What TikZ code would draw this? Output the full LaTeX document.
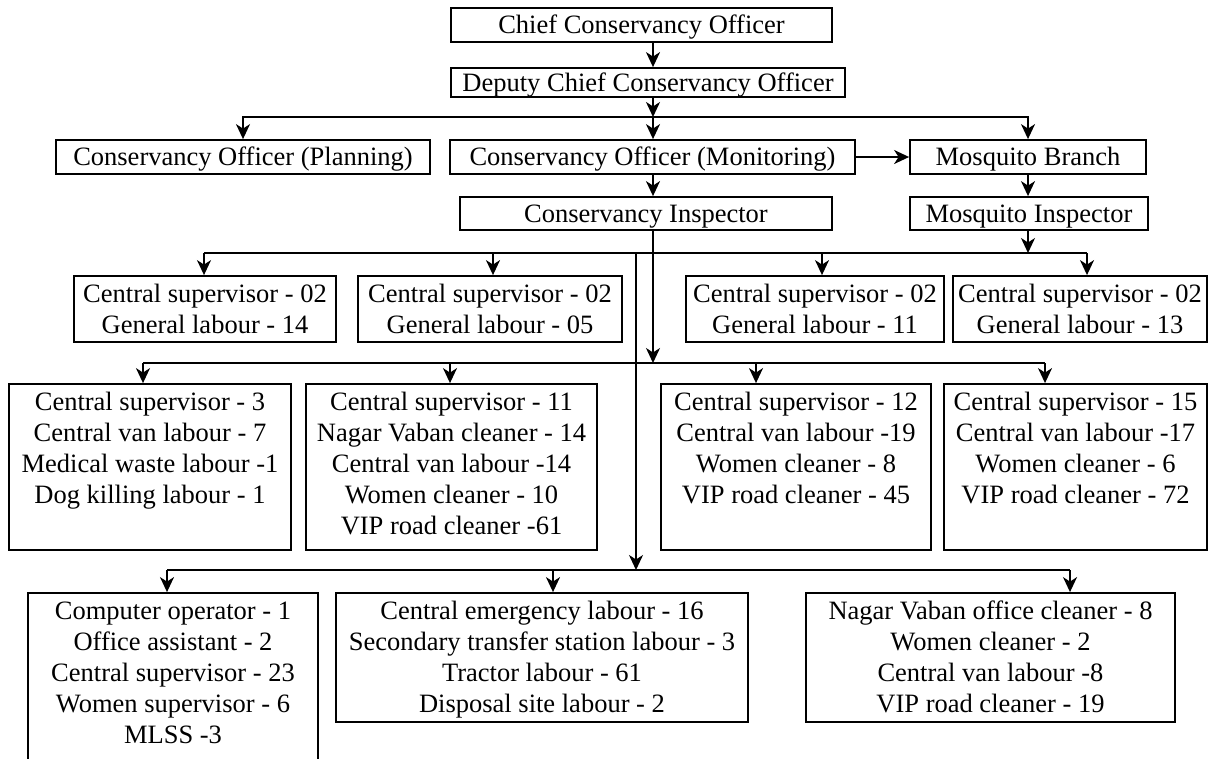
\documentclass[tikz,border=0pt]{standalone}
\usepackage{fontspec}
\setmainfont{Liberation Serif}
\usetikzlibrary{arrows.meta,calc}

\newcommand{\bt}[3]{\parbox[c][#2][t]{#1}{\centering\vspace*{4.3pt}\strut #3}}

\tikzset{
  box/.style={draw, line width=1.8pt, inner sep=0pt, font=\fontsize{26.5}{31}\selectfont},
  one/.style={box, text height=17.5pt, text depth=0pt},
  conn/.style={line width=1.8pt},
  arr/.style={conn, -{Stealth[length=15pt,width=14pt,inset=4.5pt]}},
}

\begin{document}
\begin{tikzpicture}[x=1pt,y=-1pt]
\useasboundingbox (0,0) rectangle (1209,758);

% top levels
\node[one, minimum width=381pt, minimum height=34pt] (chief) at (641.5,25) {Chief Conservancy Officer};
\node[one, minimum width=394pt, minimum height=29pt] (deputy) at (648,82.5) {Deputy Chief Conservancy Officer};
\node[one, minimum width=374pt, minimum height=34pt] (plan) at (243,157) {Conservancy Officer (Planning)};
\node[one, minimum width=405pt, minimum height=34pt] (mon) at (652.5,157) {Conservancy Officer (Monitoring)};
\node[one, minimum width=236pt, minimum height=34pt] (mb) at (1028,157) {Mosquito Branch};
\node[one, minimum width=372pt, minimum height=33pt] (ci) at (646,213.5) {Conservancy Inspector};
\node[one, minimum width=238pt, minimum height=33pt] (mi) at (1029,213.5) {Mosquito Inspector};

% row 1
\node[box] (r11) at (205,309) {\bt{262pt}{66pt}{Central supervisor - 02\\General labour - 14}};
\node[box] (r12) at (490,309) {\bt{264pt}{66pt}{Central supervisor - 02\\General labour - 05}};
\node[box] (r13) at (815,309) {\bt{258pt}{66pt}{Central supervisor - 02\\General labour - 11}};
\node[box] (r14) at (1080,309) {\bt{254pt}{66pt}{Central supervisor - 02\\General labour - 13}};

% row 2
\node[box] (r21) at (150,467) {\bt{282pt}{166pt}{Central supervisor - 3\\Central van labour - 7\\Medical waste labour -1\\Dog killing labour - 1}};
\node[box] (r22) at (451.5,467) {\bt{291pt}{166pt}{Central supervisor - 11\\Nagar Vaban cleaner - 14\\Central van labour -14\\Women cleaner - 10\\VIP road cleaner -61}};
\node[box] (r23) at (796,467) {\bt{270pt}{166pt}{Central supervisor - 12\\Central van labour -19\\Women cleaner - 8\\VIP road cleaner - 45}};
\node[box] (r24) at (1075.5,467) {\bt{263pt}{166pt}{Central supervisor - 15\\Central van labour -17\\Women cleaner - 6\\VIP road cleaner - 72}};

% row 3
\node[box] (r31) at (173,691.5) {\bt{290pt}{197pt}{Computer operator - 1\\Office assistant - 2\\Central supervisor - 23\\Women supervisor - 6\\MLSS -3}};
\node[box] (r32) at (542,657.5) {\bt{412pt}{129pt}{Central emergency labour - 16\\Secondary transfer station labour - 3\\Tractor labour - 61\\Disposal site labour - 2}};
\node[box] (r33) at (990.5,657.5) {\bt{369pt}{129pt}{Nagar Vaban office cleaner - 8\\Women cleaner - 2\\Central van labour -8\\VIP road cleaner - 19}};

% junction coordinates
\coordinate (j1) at (653,117);
\coordinate (b1) at (1028,253);
\coordinate (k) at (636,253);
\coordinate (a11) at (204,253);
\coordinate (a12) at (493,253);
\coordinate (a13) at (822,253);
\coordinate (a14) at (1087,253);
\coordinate (a21) at (143,363);
\coordinate (a22) at (450,363);
\coordinate (a23) at (756,363);
\coordinate (a24) at (1045,363);
\coordinate (a31) at (167,570);
\coordinate (a32) at (553,570);
\coordinate (a33) at (1070,570);

% top connectors
\draw[arr] (chief.south -| j1) -- (deputy.north -| j1);
\draw[arr] (deputy.south -| j1) -- (j1);
\draw[arr] (j1) -- (mon.north -| j1);
\draw[arr] (j1) -| (plan.north);
\draw[arr] (j1) -| (mb.north);
\draw[arr] (mon.east) -- (mb.west);
\draw[arr] (mon.south -| j1) -- (ci.north -| j1);
\draw[arr] (mb.south) -- (mb.south |- mi.north);
\draw[arr] (mi.south -| b1) -- (b1);

% row 1 bus
\draw[conn] (a11) -- (a14);
\draw[arr] (a11) -- (a11 |- r11.north);
\draw[arr] (a12) -- (a12 |- r12.north);
\draw[arr] (a13) -- (a13 |- r13.north);
\draw[arr] (a14) -- (a14 |- r14.north);

% row 2 bus
\draw[arr] (ci.south -| j1) -- (j1 |- a21);
\draw[conn] (a21) -- (a24);
\draw[arr] (a21) -- (a21 |- r21.north);
\draw[arr] (a22) -- (a22 |- r22.north);
\draw[arr] (a23) -- (a23 |- r23.north);
\draw[arr] (a24) -- (a24 |- r24.north);

% row 3 bus
\draw[arr] (k) -- (k |- a31);
\draw[conn] (a31) -- (a33);
\draw[arr] (a31) -- (a31 |- r31.north);
\draw[arr] (a32) -- (a32 |- r32.north);
\draw[arr] (a33) -- (a33 |- r33.north);
\end{tikzpicture}
\end{document}
